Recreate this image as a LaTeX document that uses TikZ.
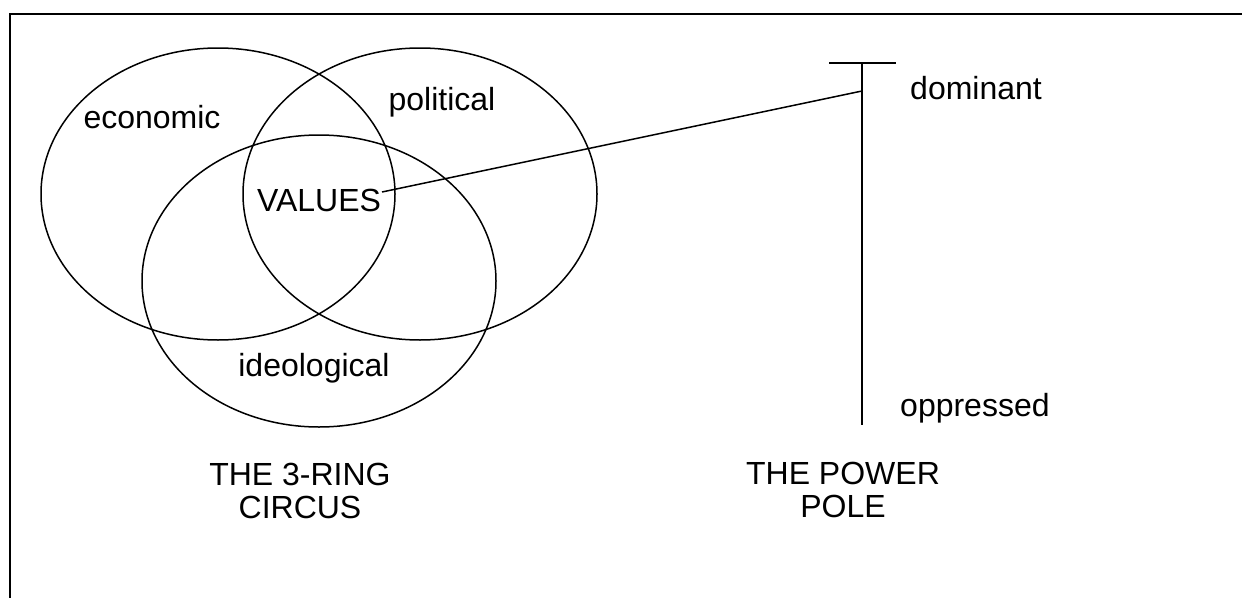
\documentclass[tikz,border=0pt]{standalone}
\usepackage{fontspec}
\setmainfont{Liberation Sans}
\usetikzlibrary{shapes.geometric}
\begin{document}
\begin{tikzpicture}[x=1pt,y=-1pt,
  ring/.style={draw,ellipse,line width=1.5pt,minimum width=354pt,minimum height=292pt,inner sep=0pt},
  lbl/.style={font=\fontsize{32}{33}\selectfont,inner sep=0pt},
  thin/.style={line width=1.5pt},
  frame/.style={line width=2.8pt}]
\useasboundingbox (0,0) rectangle (1242,597);
% frame (top and left only)
\coordinate (fbl) at (10,600);
\coordinate (ftl) at (10,14);
\coordinate (ftr) at (1245,14);
\draw[frame] (fbl) -- (ftl) -- (ftr);
% rings
\node[ring] (eco) at (218,194) {};
\node[ring] (pol) at (420,194) {};
\node[ring] (ideo) at (319,281) {};
% labels
\node[lbl] (ecotxt) at (152,117) {economic};
\node[lbl] (poltxt) at (442,102) {political};
\node[lbl] (values) at (319,200) {VALUES};
\node[lbl] (ideotxt) at (314,368) {ideological};
\node[lbl,align=center] (circus) at (300,491) {THE 3-RING\\CIRCUS};
\node[lbl,align=center] (power) at (843,490) {THE POWER\\POLE};
\node[lbl,anchor=west] (dom) at (910,88) {dominant};
\node[lbl,anchor=west] (opp) at (900,408) {oppressed};
% pole
\coordinate (barl) at (829,63);
\coordinate (barr) at (896,63);
\coordinate (poletop) at (862,63);
\coordinate (polebot) at (862,425);
\coordinate (polejoin) at (862,91);
\coordinate (valend) at (382,192);
\draw[thin] (barl) -- (barr);
\draw[thin] (poletop) -- (polebot);
\draw[thin] (valend) -- (polejoin);
\end{tikzpicture}
\end{document}
